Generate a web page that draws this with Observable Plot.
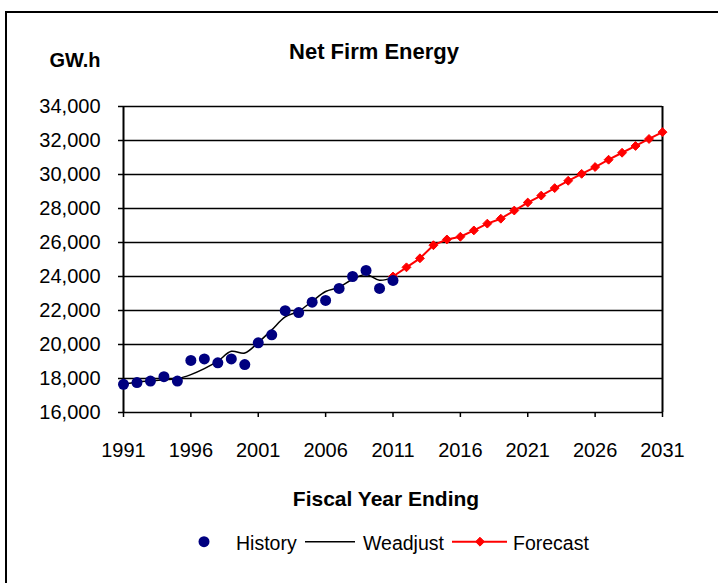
<!DOCTYPE html>
<html><head><meta charset="utf-8">
<script src="https://cdn.jsdelivr.net/npm/d3@7"></script>
<script src="https://cdn.jsdelivr.net/npm/@observablehq/plot@0.6"></script>
<style>
body{margin:0;background:#fff;font-family:"Liberation Sans",Arial,sans-serif;}
#wrap{position:relative;width:718px;height:583px;overflow:hidden;background:#fff;}
#border{position:absolute;left:5px;top:11px;width:800px;height:700px;border:2px solid #000;}
.t{position:absolute;white-space:nowrap;color:#000;line-height:1;}
#chart{position:absolute;left:0;top:0;}
#legend{position:absolute;left:0;top:0;}
</style></head><body>
<div id="wrap">
<div id="border"></div>
<div id="chart"></div>
<svg id="legend" width="718" height="583"></svg>
<div class="t" style="left:374px;top:40.5px;transform:translateX(-50%);font-weight:bold;font-size:22px;">Net Firm Energy</div>
<div class="t" style="left:75px;top:50px;transform:translateX(-50%);font-weight:bold;font-size:20px;">GW.h</div>
<div class="t" style="left:386px;top:488px;transform:translateX(-50%);font-weight:bold;font-size:21px;">Fiscal Year Ending</div>
<div class="t" style="left:236px;top:533.5px;font-size:19.5px;">History</div>
<div class="t" style="left:363px;top:533.5px;font-size:19.5px;">Weadjust</div>
<div class="t" style="left:513px;top:533.5px;font-size:19.5px;">Forecast</div>
</div>
<script>
const historyYears = [1991,1992,1993,1994,1995,1996,1997,1998,1999,2000,2001,2002,2003,2004,2005,2006,2007,2008,2009,2010,2011];
const historyValues = [17660,17760,17850,18110,17850,19060,19150,18920,19150,18820,20100,20570,21990,21880,22490,22590,23300,24000,24360,23300,23770];
const weadjustValues = [17660,17800,17860,17920,17990,18230,18580,19020,19600,19500,20120,20860,21620,21960,22540,23120,23370,23840,24120,23780,23950];
const forecastYears = [2011,2012,2013,2014,2015,2016,2017,2018,2019,2020,2021,2022,2023,2024,2025,2026,2027,2028,2029,2030,2031];
const forecastValues = [24000,24540,25070,25840,26180,26340,26710,27110,27400,27880,28350,28760,29200,29630,30040,30440,30870,31280,31680,32090,32490];
const yTicks = [16000,18000,20000,22000,24000,26000,28000,30000,32000,34000];
const xTicks = [1991,1996,2001,2006,2011,2016,2021,2026,2031];

const history = historyYears.map((x,i)=>({x, y: historyValues[i]}));
const weadjust = historyYears.map((x,i)=>({x, y: weadjustValues[i]}));
const forecast = forecastYears.map((x,i)=>({x, y: forecastValues[i]}));

const chart = Plot.plot({
  width: 718, height: 583,
  marginLeft: 123, marginRight: 56, marginTop: 106, marginBottom: 171,
  style: {fontFamily: '"Liberation Sans", Arial, sans-serif', fontSize: "20px", color: "#000", background: "transparent", overflow: "visible"},
  x: {domain: [1991, 2031], label: null},
  y: {domain: [16000, 34000], label: null},
  marks: [
    Plot.ruleY(yTicks, {stroke: "#000", strokeWidth: 1.6}),
    Plot.ruleX([1991, 2031], {stroke: "#000", strokeWidth: 2}),
    Plot.axisY({ticks: yTicks, tickSize: 5, tickPadding: 18, tickFormat: d3.format(","), label: null, strokeWidth: 1.5}),
    Plot.axisX({ticks: xTicks, tickSize: 5, tickPadding: 25, tickFormat: d => String(d), label: null, strokeWidth: 1.5}),
    Plot.line(weadjust, {x: "x", y: "y", curve: "catmull-rom", stroke: "#000", strokeWidth: 1.5}),
    Plot.line(forecast, {x: "x", y: "y", stroke: "#ff0000", strokeWidth: 2}),
    Plot.dot(forecast, {x: "x", y: "y", symbol: "diamond2", r: 4, fill: "#ff0000", stroke: "#ff0000", strokeWidth: 1}),
    Plot.dot(history, {x: "x", y: "y", r: 5.5, fill: "#000080", stroke: "none"})
  ]
});
document.getElementById("chart").appendChild(chart);

// legend symbols
const lg = d3.select("#legend");
const ly = 541.7;
lg.append("circle").attr("cx", 204).attr("cy", ly).attr("r", 5.5).attr("fill", "#000080");
lg.append("line").attr("x1", 305).attr("x2", 355).attr("y1", ly).attr("y2", ly).attr("stroke", "#000").attr("stroke-width", 1.5);
lg.append("line").attr("x1", 452).attr("x2", 507).attr("y1", ly).attr("y2", ly).attr("stroke", "#ff0000").attr("stroke-width", 2);
lg.append("path").attr("d", d3.symbol(d3.symbolDiamond2, Math.PI*16)()).attr("transform", `translate(480,${ly})`).attr("fill", "#ff0000").attr("stroke", "#ff0000");
</script>
</body></html>
